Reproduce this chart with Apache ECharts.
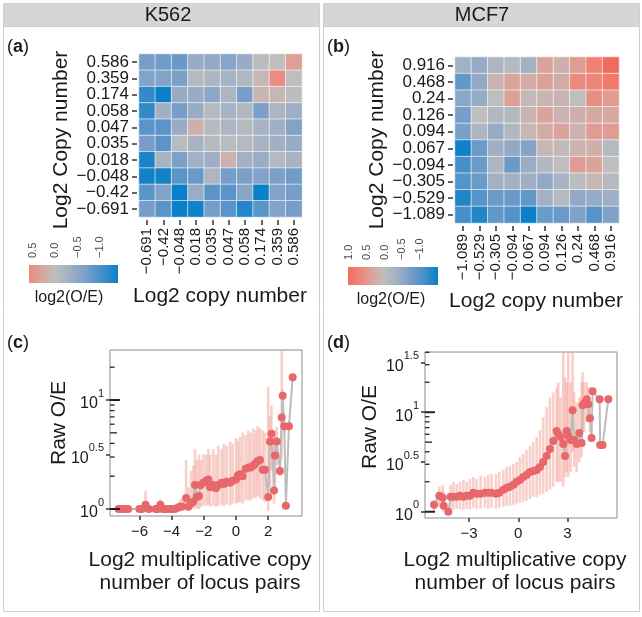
<!DOCTYPE html>
<html><head><meta charset="utf-8">
<script src="https://cdn.jsdelivr.net/npm/echarts@6/dist/echarts.min.js"></script>
<style>html,body{margin:0;padding:0;background:#fff}#c{width:642px;height:617px}</style>
</head><body><div id="c"></div><script>
// ---------------- DATA ----------------
const kLabels = ['-0.691','-0.42','-0.048','0.018','0.035','0.047','0.058','0.174','0.359','0.586'];
const mLabels = ['-1.089','-0.529','-0.305','-0.094','0.067','0.094','0.126','0.24','0.468','0.916'];
// rows listed from top (largest label) to bottom; columns left to right
const kRows = [
  [-0.7,-0.75,-0.8,-0.4,-0.45,-0.55,-0.4,-0.05,0.0,0.38],
  [-0.6,-0.6,-0.65,-0.1,-0.2,-0.25,-0.15,0.1,0.59,0.0],
  [-1.15,-1.4,-0.4,-0.4,-0.5,-0.2,-0.7,0.12,0.1,-0.02],
  [-1.15,-0.3,-0.7,-0.4,-0.1,-0.25,-0.15,-0.65,-0.2,-0.35],
  [-0.9,-0.9,-0.4,0.18,-0.1,-0.2,-0.1,-0.25,-0.3,-0.6],
  [-0.7,-0.9,-0.05,-0.25,-0.1,-0.05,-0.1,-0.25,-0.3,-0.4],
  [-1.3,-0.25,-0.65,-0.3,-0.35,0.15,-0.3,-0.4,-0.1,-0.25],
  [-1.35,-1.35,-0.9,-0.8,-0.2,-0.7,-0.65,-0.6,-0.65,-0.75],
  [-0.9,-0.6,-1.4,-0.4,-0.9,-0.9,-0.55,-1.4,-0.6,-0.7],
  [-0.7,-0.9,-1.4,-1.35,-0.7,-0.9,-1.25,-0.9,-0.6,-0.7]
];
const mRows = [
  [-0.3,-0.45,-0.2,-0.1,-0.3,0.35,0.2,0.45,0.75,1.03],
  [-0.9,-0.5,0.15,0.35,0.25,0.4,0.25,0.65,0.7,0.85],
  [-0.55,-0.45,0.0,0.4,0.05,0.12,0.15,0.0,0.6,0.45],
  [-0.75,0.0,-0.15,-0.12,0.12,0.35,0.15,0.2,0.3,0.3],
  [-0.7,-0.2,-0.45,-0.15,0.1,0.25,0.35,0.15,0.45,0.45],
  [-1.45,-0.85,-0.35,-0.5,-0.6,0.1,0.05,0.15,0.2,-0.1],
  [-1.1,-0.85,-0.2,-0.85,-0.4,-0.15,0.0,0.45,0.35,0.0],
  [-1.0,-0.85,-0.3,-0.3,-0.35,-0.5,-0.25,-0.05,0.1,-0.1],
  [-1.35,-1.0,-0.85,-0.85,-0.9,-0.3,-0.1,-0.5,-0.45,-0.35],
  [-1.1,-1.35,-0.9,-1.0,-1.5,-0.85,-0.85,-0.65,-1.0,-0.65]
];
const kBarTicks = [0.5, 0.0, -0.5, -1.0];
const mBarTicks = [1.0, 0.5, 0.0, -0.5, -1.0];

// panel (c): x, log10(raw O/E), error bar low / high (log10)
const cX  = [-7.3,-7.15,-7.0,-6.85,-6.7,-6.0,-5.85,-5.62,-5.42,-5.0,-4.85,-4.7,-4.55,-4.4,-4.25,-4.1,-3.95,-3.8,-3.65,-3.5,-3.37,
  -3.1,-2.96,-2.8,-2.65,-2.55,-2.44,-2.3,-2.19,-2.03,-1.86,-1.72,-1.61,-1.41,-1.24,-1.1,-0.89,-0.75,-0.58,-0.37,-0.21,0.0,0.12,0.25,0.41,0.6,0.77,0.91,1.08,1.22,1.35,1.49,1.66,1.8,
  2.0,2.11,2.2,2.36,2.42,2.53,2.73,2.84,2.9,3.0,3.1,3.29,3.52];
const cY  = [0,0,0,0,0,0,0,0.04,0,0,0,0.04,0,0,0,0,0,0,0.01,0.02,0.02,
  0.10,0.02,0.05,0.07,0.22,0.11,0.12,0.22,0.24,0.26,0.27,0.20,0.22,0.19,0.22,0.24,0.23,0.25,0.24,0.26,0.27,0.31,0.32,0.30,0.37,0.38,0.38,0.40,0.42,0.44,0.45,0.36,0.36,
  0.11,0.62,0.69,0.17,0.49,0.62,0.35,0.84,1.04,0.76,0.03,0.76,1.21];
const cLo = [0,0,0,0,0,0,0,0,0,0,0,0,0,0,0,0,0,0,0,0,0,
  0,0,0,0,0.02,0,0,0.02,0.03,0.03,0.04,0.02,0.03,0.02,0.03,0.04,0.03,0.04,0.03,0.05,0.05,0.06,0.06,0.05,0.08,0.08,0.08,0.1,0.1,0.12,0.1,0.08,0.06,
  -0.02,0.2,0.35,0.05,0.2,0.4,0.3,0.45,0.95,0.7,0.03,0.76,1.21];
const cHi = [0,0,0,0,0,0,0,0.17,0,0,0,0.09,0,0,0,0,0,0,0.04,0.08,0.1,
  0.45,0.2,0.35,0.4,0.55,0.45,0.5,0.45,0.5,0.5,0.55,0.5,0.55,0.5,0.58,0.55,0.6,0.58,0.62,0.6,0.65,0.62,0.66,0.7,0.68,0.72,0.7,0.74,0.72,0.76,0.74,0.72,0.7,
  1.12,0.85,0.95,0.7,0.72,0.75,0.45,1.5,1.1,0.8,0.03,0.76,1.21];

// panel (d)
const dX  = [-5.14,-4.82,-4.61,-4.55,-4.27,-4.13,-3.96,-3.76,-3.56,-3.35,-3.15,-2.95,-2.74,-2.54,-2.3,-2.03,-1.83,-1.63,-1.36,-1.16,-0.91,-0.71,-0.51,-0.3,-0.1,
  0.1,0.3,0.5,0.71,0.91,1.12,1.32,1.52,1.73,1.93,2.13,2.34,2.44,2.58,2.74,2.85,2.95,3.05,3.19,3.31,3.41,3.56,3.72,3.86,3.92,4.02,4.17,4.27,4.37,4.47,4.53,4.96,4.99,5.14,5.49];
const dY  = [0.07,0.16,0.14,0.06,0.0,0.15,0.15,0.15,0.16,0.15,0.16,0.16,0.19,0.18,0.18,0.19,0.19,0.19,0.18,0.19,0.22,0.24,0.25,0.27,0.30,
  0.32,0.35,0.37,0.40,0.41,0.42,0.45,0.50,0.56,0.63,0.71,0.81,0.78,0.75,0.68,0.56,0.81,0.76,0.72,1.02,0.72,0.68,0.79,0.69,1.07,1.09,1.13,1.08,0.94,0.74,1.21,1.13,0.67,0.67,1.13];
const dLo = [0.0,0.05,0.02,0.0,0.0,0.03,0.02,0.03,0.02,0.02,0.03,0.02,0.04,0.03,0.03,0.04,0.03,0.04,0.03,0.04,0.05,0.06,0.06,0.07,0.08,
  0.09,0.1,0.11,0.13,0.15,0.15,0.17,0.18,0.2,0.22,0.25,0.3,0.3,0.3,0.25,0.35,0.4,0.35,0.4,0.6,0.45,0.4,0.5,0.55,0.8,0.8,0.9,0.9,0.8,0.7,1.21,1.13,0.67,0.67,1.13];
const dHi = [0.12,0.25,0.27,0.2,0.0,0.27,0.3,0.28,0.3,0.32,0.3,0.33,0.35,0.33,0.36,0.35,0.37,0.38,0.38,0.4,0.42,0.45,0.46,0.48,0.5,
  0.55,0.58,0.62,0.66,0.7,0.75,0.82,0.95,1.05,1.15,1.2,1.25,1.3,1.15,1.62,1.35,1.3,1.62,1.3,1.62,1.2,1.1,1.15,1.3,1.4,1.3,1.3,1.25,1.1,0.8,1.21,1.13,0.67,0.67,1.13];

const cTickX = [-6,-4,-2,0,2];
const dTickX = [-3,0,3];
const cTickY = [0,0.5,1];
const dTickY = [0,0.5,1,1.5];
// log-scale annotation ticks: multiples 1..9 of each decade (log10 O/E positions)
const logMultiples = [1,2,3,4,5,6,7,8,9];
const decades = [0, 1];

// ---------------- STYLE ----------------
const FONT = '"Liberation Sans", Arial, Helvetica, sans-serif';
const TXT = '#1a1a1a';
const STOPS = ['#0a80c8','#448ec8','#769ec8','#9eaec4','#bebebe','#dca29a','#f08273','#ee6454','#ea4837'];
const minus = s => String(s).replace(/-/g, '\u2212');

function hexToRgb(h){ return [1,3,5].map(i => parseInt(h.substr(i,2),16)); }
function colorAt(t){
  t = Math.max(-1, Math.min(1, t));
  const pos = (t + 1) / 2 * (STOPS.length - 1);
  const i = Math.min(Math.floor(pos), STOPS.length - 2), f = pos - i;
  const a = hexToRgb(STOPS[i]), b = hexToRgb(STOPS[i+1]);
  return 'rgb(' + a.map((v,k) => Math.round(v + (b[k]-v)*f)).join(',') + ')';
}
function heatData(rows){
  const out = [];
  rows.forEach((r, ri) => r.forEach((v, ci) => out.push([ci, rows.length - 1 - ri, v])));
  return out;
}
const kFlat = kRows.flat(), mFlat = mRows.flat();
const kMin = Math.min(...kFlat), kMax = Math.max(...kFlat);
const mMin = Math.min(...mFlat), mMax = Math.max(...mFlat);
const kM = Math.max(Math.abs(kMin), Math.abs(kMax));
const mM = Math.max(Math.abs(mMin), Math.abs(mMax));

const G = [
  {left:139, top:54, width:163, height:163},
  {left:455, top:57, width:164, height:166},
  {left:29, top:265, width:89, height:18},
  {left:348, top:267, width:90, height:18},
  {left:110, top:350, width:192, height:166, show:true, borderColor:'#8c8c8c', borderWidth:1, backgroundColor:'#fff'},
  {left:425, top:352, width:192, height:166, show:true, borderColor:'#8c8c8c', borderWidth:1, backgroundColor:'#fff'}
];
const C_RANGE = {xmin:-7.83, xmax:4.10, ymin:-0.064, ymax:1.459};
const D_RANGE = {xmin:-5.69, xmax:6.02, ymin:-0.063, ymax:1.605};

function heatX(gi, labels){
  return {gridIndex:gi, type:'category', data:labels, position:'bottom', offset:3,
    axisLine:{show:false}, splitLine:{show:false},
    axisTick:{show:true, interval:0, alignWithLabel:true, length:5, lineStyle:{color:'#333', width:1.5}},
    axisLabel:{interval:0, rotate:90, fontSize:15, margin:8, color:TXT, fontFamily:FONT, formatter:minus}};
}
function heatY(gi, labels){
  return {gridIndex:gi, type:'category', data:labels, offset:2,
    axisLine:{show:false}, splitLine:{show:false},
    axisTick:{show:true, interval:0, alignWithLabel:true, length:5, lineStyle:{color:'#333', width:1.5}},
    axisLabel:{interval:0, fontSize:17, margin:8, color:TXT, fontFamily:FONT, formatter:minus}};
}
function barX(gi, lo, hi, ticks){
  return {gridIndex:gi, type:'value', min:lo, max:hi, inverse:true, position:'top',
    axisLine:{show:false}, splitLine:{show:false},
    axisTick:{show:true, inside:true, length:4, customValues:ticks, lineStyle:{color:'#fff', width:1}},
    axisLabel:{customValues:ticks, rotate:90, fontSize:11, margin:7, color:'#4d4d4d', fontFamily:FONT,
      formatter: v => minus(v.toFixed(1))}};
}
function barY(gi){ return {gridIndex:gi, type:'value', show:false, min:0, max:1}; }
function scX(gi, r, ticks){
  return {gridIndex:gi, type:'value', min:r.xmin, max:r.xmax, position:'bottom',
    axisLine:{show:false, onZero:false}, splitLine:{show:false},
    axisTick:{show:true, customValues:ticks, length:4, lineStyle:{color:'#333', width:1.5}},
    axisLabel:{customValues:ticks, fontSize:15, margin:8, color:TXT, fontFamily:FONT, formatter: v => minus(v)}};
}
const supTxt = v => (v === 0.5 ? '0.5' : v === 1.5 ? '1.5' : String(v));
function scY(gi, r, ticks){
  return {gridIndex:gi, type:'value', min:r.ymin, max:r.ymax, position:'left',
    axisLine:{show:false, onZero:false}, splitLine:{show:false},
    axisTick:{show:true, customValues:ticks, length:4, lineStyle:{color:'#333', width:1.5}},
    axisLabel:{customValues:ticks, margin:6, color:TXT, fontFamily:FONT,
      formatter: v => '{b|10}{s|' + supTxt(v) + '}',
      rich:{b:{fontSize:16, lineHeight:24, verticalAlign:'bottom', fontFamily:FONT, color:TXT},
            s:{fontSize:11, lineHeight:14, verticalAlign:'top', fontFamily:FONT, color:TXT}}}};
}
function errRender(params, api){
  const x = api.value(0), lo = api.value(1), hi = api.value(2);
  if (hi - lo <= 0) return null;
  const p1 = api.coord([x, lo]), p2 = api.coord([x, hi]);
  return {type:'line', shape:{x1:p1[0], y1:p1[1], x2:p2[0], y2:p2[1]},
    style:{stroke:'rgba(243,160,150,0.5)', lineWidth:2.6}};
}
function logTickRender(params, api){
  const k = api.value(2);
  const p = api.coord([api.value(0), api.value(1)]);
  const len = k === 1 ? 10 : (k === 5 ? 7 : 4.5);
  return {type:'line', shape:{x1:p[0], y1:p[1], x2:p[0] + len, y2:p[1]},
    style:{stroke:'#222', lineWidth:k === 1 ? 2 : 1.3}};
}
function logTickData(r){
  const out = [];
  decades.forEach(d => logMultiples.forEach(k => {
    const lv = d + Math.log10(k);
    if (lv >= r.ymin && lv <= r.ymax) out.push([r.xmin, lv, k]);
  }));
  return out;
}
function zip(a, b){ return a.map((v, i) => [v, b[i]]); }
function zip3(a, b, c){ return a.map((v, i) => [v, b[i], c[i]]); }

function barGradient(lo, hi, M){
  const stops = [];
  for (let i = 0; i <= 20; i++){
    const v = hi + (lo - hi) * i / 20;
    stops.push({offset:i/20, color:colorAt(v / M)});
  }
  return new echarts.graphic.LinearGradient(0, 0, 1, 0, stops);
}

function t(x, y, text, size, extra){
  return Object.assign({type:'text', x:x, y:y, z:5,
    style:Object.assign({text:text, fontSize:size, fontFamily:FONT, fill:TXT, align:'center', verticalAlign:'middle'}, (extra||{}).style||{})},
    extra && extra.rotation !== undefined ? {rotation:extra.rotation} : {});
}
function tag(x, y, letter){
  return {type:'text', x:x, y:y, z:5, style:{text:'{n|(}{b|' + letter + '}{n|)}', fontFamily:FONT, fill:TXT,
    verticalAlign:'middle', align:'left',
    rich:{n:{fontSize:18, fontFamily:FONT, fill:TXT}, b:{fontSize:18, fontWeight:'bold', fontFamily:FONT, fill:TXT}}}};
}

const graphics = [
  {type:'rect', z:-1, shape:{x:3.5, y:3.5, width:316, height:608}, style:{fill:'#fff', stroke:'#d0d0d0', lineWidth:1}},
  {type:'rect', z:-1, shape:{x:323.5, y:3.5, width:316, height:608}, style:{fill:'#fff', stroke:'#d0d0d0', lineWidth:1}},
  {type:'rect', z:-1, shape:{x:3.5, y:3.5, width:316, height:23}, style:{fill:'#d6d6d6', stroke:'#cfcfcf', lineWidth:1}},
  {type:'rect', z:-1, shape:{x:323.5, y:3.5, width:316, height:23}, style:{fill:'#d6d6d6', stroke:'#cfcfcf', lineWidth:1}},
  t(168, 15.5, 'K562', 20),
  t(482, 15.5, 'MCF7', 20),
  tag(7, 47, 'a'), tag(327, 47, 'b'), tag(7, 343, 'c'), tag(327, 343, 'd'),
  t(61, 140, 'Log2 Copy number', 21, {rotation:Math.PI/2}),
  t(377, 140, 'Log2 Copy number', 21, {rotation:Math.PI/2}),
  t(220, 296, 'Log2 copy number', 21),
  t(536, 301, 'Log2 copy number', 21),
  t(69, 298, 'log2(O/E)', 16),
  t(391, 300, 'log2(O/E)', 16),
  {type:'rect', z:-1, shape:{x:G[2].left, y:G[2].top, width:G[2].width, height:G[2].height}, style:{fill:barGradient(kMin, kMax, kM)}},
  {type:'rect', z:-1, shape:{x:G[3].left, y:G[3].top, width:G[3].width, height:G[3].height}, style:{fill:barGradient(mMin, mMax, mM)}},
  t(59, 423, 'Raw O/E', 21, {rotation:Math.PI/2}),
  t(370, 427, 'Raw O/E', 21, {rotation:Math.PI/2}),
  t(200, 572, 'Log2 multiplicative copy\nnumber of locus pairs', 21, {style:{lineHeight:23}}),
  t(515, 572, 'Log2 multiplicative copy\nnumber of locus pairs', 21, {style:{lineHeight:23}})
];

const chart = echarts.init(document.getElementById('c'), null, {renderer:'canvas'});
const option = {
  backgroundColor:'#fff',
  animation:false,
  textStyle:{fontFamily:FONT},
  grid:G,
  xAxis:[heatX(0, kLabels), heatX(1, mLabels), barX(2, kMin, kMax, kBarTicks), barX(3, mMin, mMax, mBarTicks),
         scX(4, C_RANGE, cTickX), scX(5, D_RANGE, dTickX)],
  yAxis:[heatY(0, kLabels), heatY(1, mLabels), barY(2), barY(3),
         scY(4, C_RANGE, cTickY), scY(5, D_RANGE, dTickY)],
  visualMap:[
    {type:'continuous', show:false, seriesIndex:0, dimension:2, min:-kM, max:kM, inRange:{color:STOPS}},
    {type:'continuous', show:false, seriesIndex:1, dimension:2, min:-mM, max:mM, inRange:{color:STOPS}}
  ],
  series:[
    {type:'heatmap', xAxisIndex:0, yAxisIndex:0, data:heatData(kRows),
      itemStyle:{borderColor:'rgba(255,255,255,0.75)', borderWidth:0.8}},
    {type:'heatmap', xAxisIndex:1, yAxisIndex:1, data:heatData(mRows),
      itemStyle:{borderColor:'rgba(255,255,255,0.75)', borderWidth:0.8}},
    {type:'custom', xAxisIndex:4, yAxisIndex:4, clip:true, z:1, renderItem:errRender,
      encode:{x:0, y:[1,2]}, data:zip3(cX, cLo, cHi)},
    {type:'line', xAxisIndex:4, yAxisIndex:4, z:2, showSymbol:false, symbol:'none',
      lineStyle:{color:'#bdbdbd', width:2}, data:zip(cX, cY)},
    {type:'scatter', xAxisIndex:4, yAxisIndex:4, z:3, symbolSize:8,
      itemStyle:{color:'#e8676a', opacity:1}, data:zip(cX, cY)},
    {type:'custom', xAxisIndex:5, yAxisIndex:5, clip:true, z:1, renderItem:errRender,
      encode:{x:0, y:[1,2]}, data:zip3(dX, dLo, dHi)},
    {type:'line', xAxisIndex:5, yAxisIndex:5, z:2, showSymbol:false, symbol:'none',
      lineStyle:{color:'#bdbdbd', width:2}, data:zip(dX, dY)},
    {type:'scatter', xAxisIndex:5, yAxisIndex:5, z:3, symbolSize:8,
      itemStyle:{color:'#e8676a', opacity:1}, data:zip(dX, dY)},
    {type:'custom', xAxisIndex:4, yAxisIndex:4, clip:false, z:5, silent:true, renderItem:logTickRender,
      encode:{x:0, y:1}, data:logTickData(C_RANGE)},
    {type:'custom', xAxisIndex:5, yAxisIndex:5, clip:false, z:5, silent:true, renderItem:logTickRender,
      encode:{x:0, y:1}, data:logTickData(D_RANGE)}
  ],
  graphic:{elements:graphics.map((g, i) => Object.assign({id:'g' + i}, g))}
};
chart.setOption(option);
</script></body></html>
